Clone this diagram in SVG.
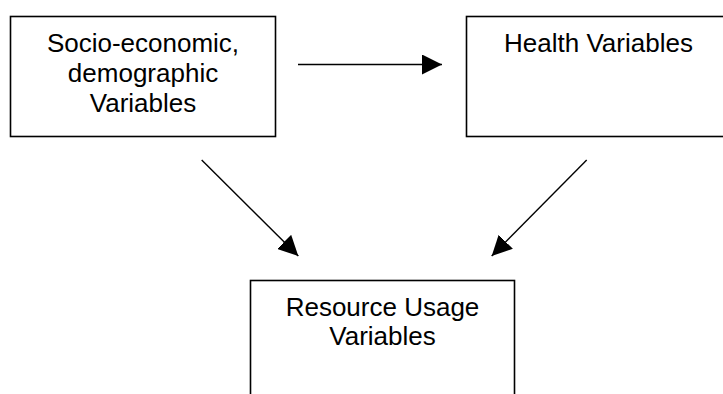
<svg xmlns="http://www.w3.org/2000/svg" width="723" height="394" viewBox="0 0 723 394">
  <style>
    .box { fill: #ffffff; stroke: #000000; stroke-width: 1.6; }
    .lbl { font-family: "Liberation Sans", Arial, sans-serif; font-size: 26px; fill: #000000; text-anchor: middle; }
    .conn { stroke: #000000; stroke-width: 1.4; fill: none; marker-end: url(#arrow); }
  </style>
  <defs>
    <marker id="arrow" markerUnits="userSpaceOnUse" markerWidth="20" markerHeight="20" refX="20" refY="10" orient="auto" viewBox="0 0 20 20">
      <path d="M0,0 L20,10 L0,20 Z" fill="#000000"/>
    </marker>
  </defs>
  <rect width="723" height="394" fill="#ffffff"/>
  <g id="node-socio">
    <rect class="box" x="10.5" y="16.5" width="265" height="120"/>
    <text class="lbl" x="143" y="52">Socio-economic,</text>
    <text class="lbl" x="143" y="82">demographic</text>
    <text class="lbl" x="143" y="111.5">Variables</text>
  </g>
  <g id="node-health">
    <rect class="box" x="466.5" y="16.5" width="264" height="120"/>
    <text class="lbl" x="598.5" y="52">Health Variables</text>
  </g>
  <g id="node-resource">
    <rect class="box" x="250.5" y="280.5" width="264" height="130"/>
    <text class="lbl" x="382.5" y="315.5">Resource Usage</text>
    <text class="lbl" x="382.5" y="345">Variables</text>
  </g>
  <g id="connectors">
    <line class="conn" x1="298" y1="64.5" x2="442" y2="64.5"/>
    <line class="conn" x1="201.7" y1="160" x2="298.3" y2="256"/>
    <line class="conn" x1="586.7" y1="160" x2="491.7" y2="256"/>
  </g>
</svg>
